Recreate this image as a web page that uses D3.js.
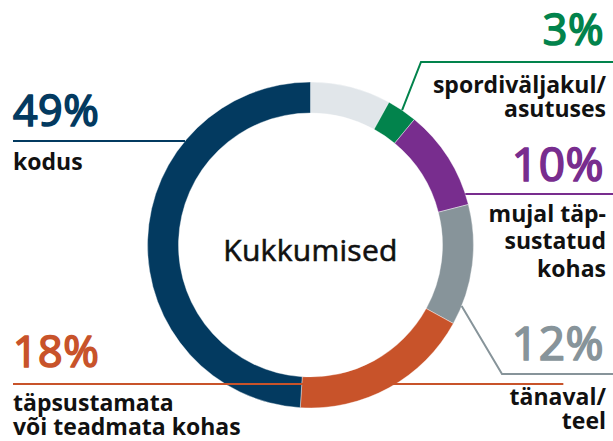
<!DOCTYPE html>
<html><head><meta charset="utf-8">
<script src="https://cdn.jsdelivr.net/npm/d3@7"></script>
<style>body{margin:0;background:#fff}svg{display:block}text{font-family:"Open Sans",sans-serif}</style>
</head><body>
<script>
const categories = ["muu", "spordiväljakul/ asutuses", "mujal täpsustatud kohas", "tänaval/ teel", "täpsustamata või teadmata kohas", "kodus"];
const values = [8, 3, 10, 12, 18, 49];
const colors = ["#e1e6ea", "#02834c", "#782d8e", "#87949a", "#c8532a", "#033a60"];
const pctLabels = [null, "3%", "10%", "12%", "18%", "49%"];
const textLines = [null, ["spordiväljakul/", "asutuses"], ["mujal täp-", "sustatud", "kohas"], ["tänaval/", "teel"], ["täpsustamata", "või teadmata kohas"], ["kodus"]];
const centerTitle = "Kukkumised";

const W = 613, H = 441, cx = 310.5, cy = 245, rOut = 163, rIn = 132;
const svg = d3.select("body").append("svg").attr("width", W).attr("height", H);
const g = svg.append("g").attr("transform", `translate(${cx},${cy})`);

const pie = d3.pie().sort(null).value(d => d)(values);
const arc = d3.arc().innerRadius(rIn).outerRadius(rOut);

g.selectAll("path").data(pie).join("path")
  .attr("d", arc).attr("fill", (d, i) => colors[i])
  .attr("stroke", "#fff").attr("stroke-width", 0.4);

const pt = (a, r) => [r * Math.sin(a), -r * Math.cos(a)];

const layout = [
  null,
  {side: "R", pctY: 45, pctSize: 43, lineY: 62, textY: [93, 117], elbowX: 421, from: "mid"},
  {side: "R", pctY: 181, pctSize: 46, lineY: 194, textY: [222, 249, 276.5], from: "edge"},
  {side: "R", pctY: 360, pctSize: 46, lineY: 374, textY: [405, 428.5], elbowX: 502, angle: 112},
  {side: "L", pctY: 367, pctSize: 43, lineY: 384, textY: [411, 435], from: "start"},
  {side: "L", pctY: 126, pctSize: 43, lineY: 141, textY: [170], from: "edge"}
];

const lines = svg.append("g").attr("fill", "none").attr("stroke-width", 2);
const labels = svg.append("g");
const rightX = 606, leftX = 13;

pie.forEach((d, i) => {
  const L = layout[i];
  if (!L) return;
  const col = colors[i];
  const dy = L.lineY - cy;
  let pts;
  if (L.side === "R") {
    if (L.from === "mid") {
      const [x, y] = pt((d.startAngle + d.endAngle) / 2, rOut);
      pts = [[cx + x, cy + y], [L.elbowX, L.lineY], [W, L.lineY]];
    } else if (L.angle) {
      const [x, y] = pt(L.angle * Math.PI / 180, rOut);
      pts = [[cx + x, cy + y], [L.elbowX, L.lineY], [W, L.lineY]];
    } else {
      const x = cx + Math.sqrt(rOut * rOut - dy * dy);
      pts = [[x, L.lineY], [W, L.lineY]];
    }
  } else {
    if (L.from === "start") {
      const a = d.startAngle;
      const r = dy / -Math.cos(a);
      pts = [[leftX, L.lineY], [cx + r * Math.sin(a), L.lineY]];
    } else {
      const x = cx - Math.sqrt(rOut * rOut - dy * dy);
      pts = [[leftX, L.lineY], [x, L.lineY]];
    }
  }
  lines.append("path").attr("d", d3.line()(pts)).attr("stroke", col);

  const anchor = L.side === "R" ? "end" : "start";
  const tx = L.side === "R" ? rightX : leftX;
  labels.append("text").attr("x", L.side === "R" ? tx - 2 : tx).attr("y", L.pctY)
    .attr("text-anchor", anchor).attr("fill", col)
    .attr("stroke", col).attr("stroke-width", 1.7).attr("stroke-linejoin", "round")
    .attr("font-size", L.pctSize).attr("font-weight", 400).attr("letter-spacing", 0.5)
    .text(pctLabels[i]);
  textLines[i].forEach((t, k) => {
    labels.append("text").attr("x", tx).attr("y", L.textY[k])
      .attr("text-anchor", anchor).attr("fill", "#111")
      .attr("font-size", 23).attr("font-weight", 700)
      .text(t);
  });
});

svg.append("text").attr("x", cx).attr("y", 261).attr("text-anchor", "middle")
  .attr("font-size", 30).attr("font-weight", 400).attr("fill", "#111")
  .attr("stroke", "#111").attr("stroke-width", 0.6).attr("letter-spacing", 0.3)
  .text(centerTitle);
</script>
</body></html>
